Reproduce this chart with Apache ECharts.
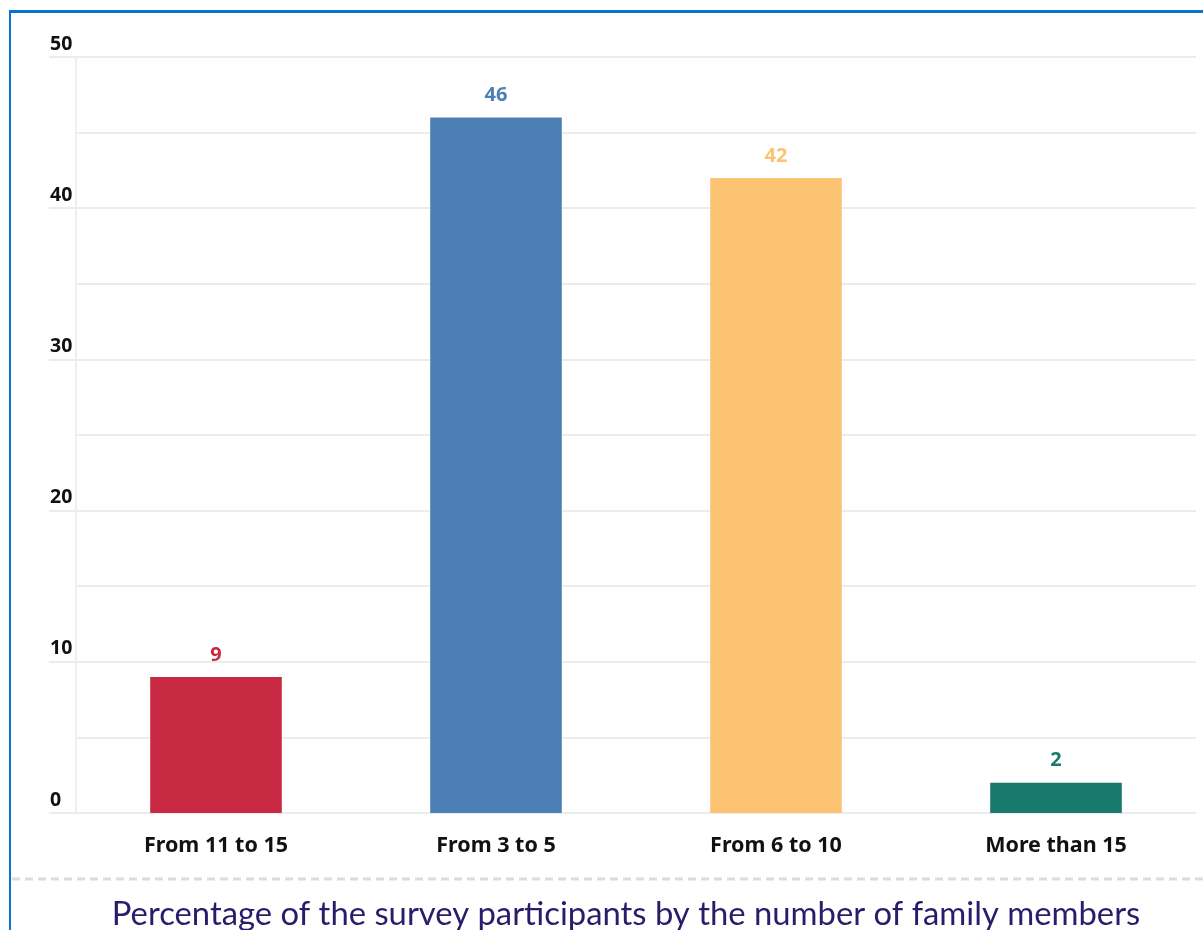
<!DOCTYPE html>
<html>
<head>
<meta charset="utf-8">
<script src="https://cdn.jsdelivr.net/npm/echarts@6/dist/echarts.min.js"></script>
<style>
  html, body { margin: 0; padding: 0; background: #fff; overflow: hidden; }
  .frame { position: absolute; left: 9px; top: 10px; width: 1260px; height: 1000px;
           border-left: 2px solid #0b74c8; border-top: 3px solid #0b74c8; }
  #chart { position: absolute; left: 0; top: 0; width: 1203px; height: 930px; }
</style>
</head>
<body>
<div class="frame"></div>
<div id="chart"></div>
<script>
// data
const categories = ['From 11 to 15', 'From 3 to 5', 'From 6 to 10', 'More than 15'];
const values = [9, 46, 42, 2];
const barColors = ['#c82a44', '#4c80b5', '#fcc372', '#197a6b'];
const titleText = 'Percentage of the survey participants by the number of family members';

const FONT = '"Noto Sans", Lato, sans-serif';
const TITLE_FONT = 'Lato, "Noto Sans", sans-serif';

const chart = echarts.init(document.getElementById('chart'));

const option = {
    animation: false,
    grid: { left: 76, right: 7, top: 57, bottom: 117, containLabel: false },
    xAxis: {
        type: 'category',
        data: categories,
        axisLine: { show: false },
        axisTick: { show: false },
        axisLabel: {
            margin: 22,
            fontFamily: FONT,
            fontWeight: 'bold',
            fontSize: 21.5,
            color: '#111'
        }
    },
    yAxis: {
        type: 'value',
        min: 0,
        max: 50,
        interval: 10,
        axisLine: { show: true, lineStyle: { color: '#efefef', width: 2 } },
        axisTick: { show: true, length: 27, lineStyle: { color: '#ececec', width: 2 } },
        axisLabel: {
            align: 'left',
            verticalAlign: 'bottom',
            margin: 26,
            padding: [0, 0, 3, 0],
            fontFamily: FONT,
            fontWeight: 'bold',
            fontSize: 19.5,
            color: '#111'
        },
        splitLine: { lineStyle: { color: '#ececec', width: 2 } },
        minorTick: { show: false, splitNumber: 2 },
        minorSplitLine: { show: true, lineStyle: { color: '#ececec', width: 2 } }
    },
    series: [{
        type: 'bar',
        barWidth: '47%',
        data: values.map((v, i) => ({
            value: v,
            itemStyle: { color: barColors[i] },
            label: { color: barColors[i] }
        })),
        label: {
            show: true,
            position: 'top',
            distance: 12,
            fontFamily: FONT,
            fontWeight: 'bold',
            fontSize: 20
        }
    }],
    graphic: [
        {
            type: 'line',
            shape: { x1: 12, y1: 879, x2: 1203, y2: 879 },
            style: { stroke: '#dcdcdc', lineWidth: 3, lineDash: [8, 5] }
        },
        {
            type: 'text',
            x: 626,
            y: 914,
            style: {
                text: titleText,
                fill: '#2c1b6b',
                font: '32.8px ' + TITLE_FONT,
                textAlign: 'center',
                textVerticalAlign: 'middle'
            }
        }
    ]
};

chart.setOption(option);
</script>
</body>
</html>
